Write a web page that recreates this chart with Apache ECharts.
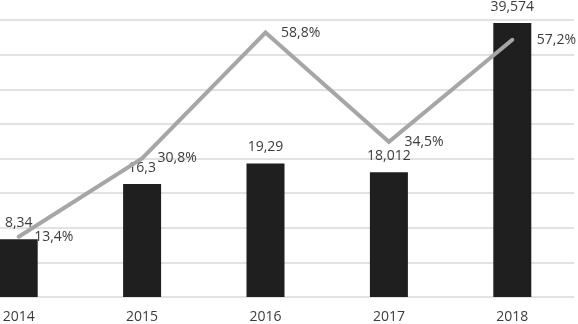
<!DOCTYPE html>
<html>
<head>
<meta charset="utf-8">
<script src="https://cdn.jsdelivr.net/npm/echarts@6/dist/echarts.min.js"></script>
<style>
    html, body { margin: 0; padding: 0; background: #fff; overflow: hidden; }
    #wrap { position: relative; width: 578px; height: 324px; overflow: hidden; }
    /* the first category sits partly off the left edge, as in the source crop */
    #chart { position: absolute; left: -43px; top: 0; width: 621px; height: 324px; }
</style>
</head>
<body>
<div id="wrap"><div id="chart"></div></div>
<script>
var years = ['2014', '2015', '2016', '2017', '2018'];
var amounts = [8.34, 16.3, 19.29, 18.012, 39.574];
var amountLabels = ['8,34', '16,3', '19,29', '18,012', '39,574'];
var shares = [13.4, 30.8, 58.8, 34.5, 57.2];
var shareLabels = ['13,4%', '30,8%', '58,8%', '34,5%', '57,2%'];

var textColor = '#3c3c3c';
var font = 'Open Sans';

var chart = echarts.init(document.getElementById('chart'));

var lineData = shares.map(function(v, i) {
    var item = { value: v };
    if (i === shares.length - 1) {
        item.label = { distance: 24 };
    }
    return item;
});

var option = {
    animation: false,
    grid: {
        left: 0,
        right: 4,
        top: 20,
        bottom: 26
    },
    xAxis: {
        type: 'category',
        data: years,
        axisLine: { show: false },
        axisTick: { show: false },
        axisLabel: {
            color: textColor,
            fontFamily: font,
            fontSize: 14,
            margin: 13
        }
    },
    yAxis: [
        {
            type: 'value',
            min: 0,
            max: 40,
            interval: 5,
            axisLabel: { show: false },
            axisLine: { show: false },
            axisTick: { show: false },
            splitLine: { lineStyle: { color: '#d9d9d9', width: 1.5 } }
        },
        {
            type: 'value',
            min: 0,
            max: 61.6,
            show: false,
            splitLine: { show: false }
        }
    ],
    series: [
        {
            name: 'amount',
            type: 'bar',
            data: amounts,
            barWidth: 38,
            itemStyle: { color: '#1f1f1f' },
            label: {
                show: true,
                position: 'top',
                distance: 9,
                color: textColor,
                fontFamily: font,
                fontSize: 14,
                formatter: function(p) { return amountLabels[p.dataIndex]; }
            }
        },
        {
            name: 'share',
            type: 'line',
            yAxisIndex: 1,
            data: lineData,
            symbol: 'circle',
            symbolSize: 1,
            itemStyle: { color: '#a6a6a6' },
            lineStyle: { color: '#a6a6a6', width: 4, cap: 'round', join: 'miter' },
            z: 3,
            label: {
                show: true,
                position: 'right',
                distance: 15,
                color: textColor,
                fontFamily: font,
                fontSize: 14,
                formatter: function(p) { return shareLabels[p.dataIndex]; }
            }
        }
    ]
};

chart.setOption(option);
</script>
</body>
</html>
